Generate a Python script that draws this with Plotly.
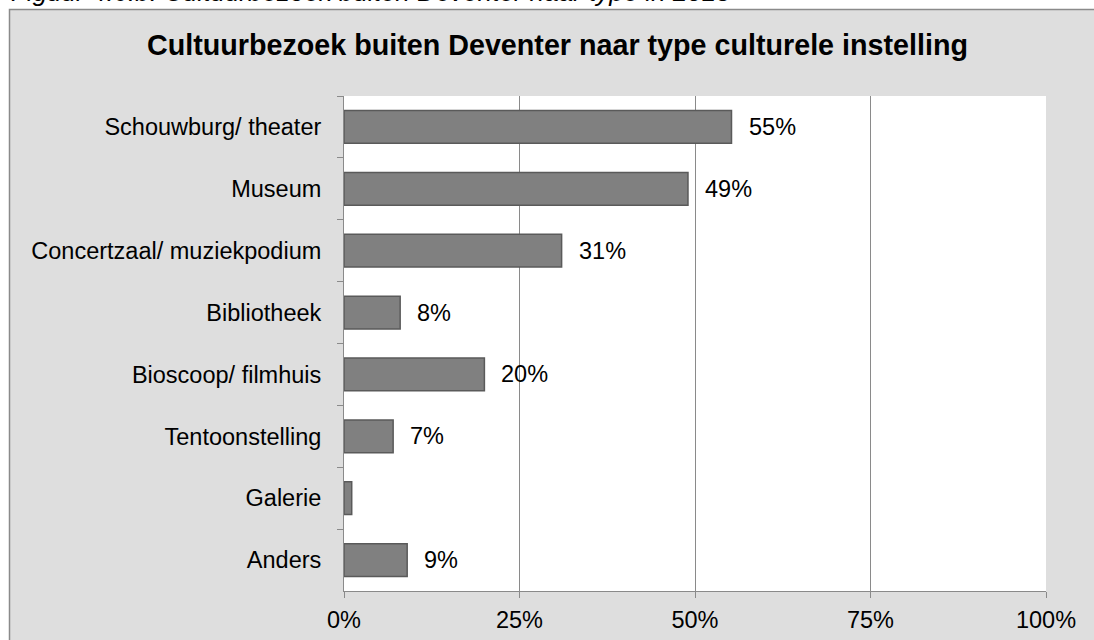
import plotly.graph_objects as go

categories = ["Schouwburg/ theater", "Museum", "Concertzaal/ muziekpodium", "Bibliotheek",
              "Bioscoop/ filmhuis", "Tentoonstelling", "Galerie", "Anders"]
values = [55.2, 49, 31, 8, 20, 7, 1.1, 9]
value_labels = ["55%", "49%", "31%", "8%", "20%", "7%", "", "9%"]
x_ticks = [0, 25, 50, 75, 100]
x_tick_labels = ["0%", "25%", "50%", "75%", "100%"]
title_text = "Cultuurbezoek buiten Deventer naar type culturele instelling"
caption_text = "Figuur 4.6.b: Cultuurbezoek buiten Deventer naar type in 2015"

FONT = "Liberation Sans, Arial, sans-serif"
W, H = 1094, 640
L, R, T, B = 344, 48, 96, 49
PW, PH = W - L - R, H - T - B


def px_x(p):
    return (p - L) / PW


def px_y(p):
    return (H - B - p) / PH


fig = go.Figure()
fig.add_trace(go.Bar(
    x=values, y=categories, orientation="h",
    marker=dict(color="#808080", line=dict(color="#5a5a5a", width=1.5)),
    hoverinfo="skip", showlegend=False,
))

annotations = []
for c, v, t in zip(categories, values, value_labels):
    if t:
        annotations.append(dict(x=v, y=c, xref="x", yref="y", text=t, showarrow=False,
                                xanchor="left", yanchor="middle", xshift=15,
                                font=dict(family=FONT, size=23.5, color="#000000")))
annotations.append(dict(x=px_x(557.5), y=px_y(45), xref="paper", yref="paper", text="<b>" + title_text + "</b>",
                        showarrow=False, xanchor="center", yanchor="middle",
                        font=dict(family=FONT, size=28.7, color="#000000")))
annotations.append(dict(x=px_x(9), y=px_y(-8), xref="paper", yref="paper", text="<i>" + caption_text + "</i>",
                        showarrow=False, xanchor="left", yanchor="middle",
                        font=dict(family=FONT, size=26, color="#000000")))

shapes = [
    dict(type="rect", xref="paper", yref="paper", x0=px_x(9.5), x1=px_x(1110), y0=px_y(660), y1=px_y(9.5),
         fillcolor="#dedede", line=dict(color="#8a8a8a", width=1.5), layer="below"),
    dict(type="rect", xref="paper", yref="paper", x0=0, x1=1, y0=0, y1=1,
         fillcolor="#ffffff", line=dict(width=0), layer="below"),
]

fig.update_layout(
    width=W, height=H,
    margin=dict(l=L, r=R, t=T, b=B, pad=0, autoexpand=False),
    paper_bgcolor="#ffffff", plot_bgcolor="rgba(0,0,0,0)",
    bargap=0.47,
    font=dict(family=FONT, size=23.5, color="#000000"),
    annotations=annotations, shapes=shapes,
    xaxis=dict(range=[0, 100], tickvals=x_ticks, ticktext=x_tick_labels,
               showgrid=True, gridcolor="#8a8a8a", gridwidth=1,
               showline=True, linecolor="#8a8a8a", linewidth=1,
               ticks="outside", ticklen=6, tickcolor="#8a8a8a", tickwidth=1,
               zeroline=False, ticklabelstandoff=2, automargin=False, fixedrange=True),
    yaxis=dict(categoryorder="array", categoryarray=categories, autorange="reversed",
               showgrid=False, showline=True, linecolor="#8a8a8a", linewidth=1,
               ticks="outside", ticklen=6, tickcolor="#8a8a8a", tickwidth=1,
               tickson="boundaries", ticklabelstandoff=17, automargin=False,
               zeroline=False, fixedrange=True),
)

fig.write_html("out.html", config={"displayModeBar": False},
               post_script="document.body.style.margin='0';document.body.style.overflow='hidden';")
